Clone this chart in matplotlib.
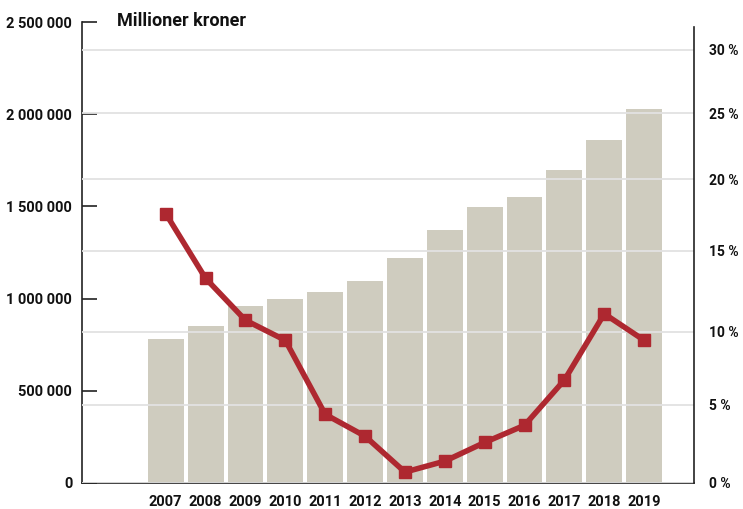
import numpy as np
import matplotlib
matplotlib.use("Agg")
import matplotlib.pyplot as plt

# Data
years = ["2007", "2008", "2009", "2010", "2011", "2012", "2013",
         "2014", "2015", "2016", "2017", "2018", "2019"]
amount = [781000, 852000, 960000, 998000, 1036000, 1096000, 1221000,
          1373000, 1498000, 1552000, 1698000, 1861000, 2029000]
growth = [17.6, 13.3, 10.7, 9.4, 4.4, 3.0, 0.7, 1.4, 2.6, 3.7, 6.7, 11.1, 9.4]

left_ticks = [0, 500000, 1000000, 1500000, 2000000, 2500000]
right_ticks = [0, 5, 10, 15, 20, 25, 30]

# The right axis in the original is not evenly spaced; mimic it
pct_knots = [0, 5, 10, 15, 20, 25, 30, 32.2]
frac_knots = [0, 0.1692, 0.3286, 0.5033, 0.6594, 0.8026, 0.9393, 1.0]

bar_color = "#cfccbf"
line_color = "#ae2830"
grid_color = "#e2e2e2"

plt.rcParams["font.family"] = ["Roboto", "DejaVu Sans"]
plt.rcParams["font.weight"] = "bold"

fig = plt.figure(figsize=(7.43, 5.09), dpi=100)
ax = fig.add_axes([82 / 743, 26 / 509, 612 / 743, 461 / 509])
x = np.arange(len(years))

ax.bar(x, amount, width=0.9, color=bar_color, zorder=1)
ax.set_xlim(-2.1, 13.25)
ax.set_ylim(0, 2500000)
ax.set_yticks(left_ticks)
ax.set_yticklabels([f"{v:,}".replace(",", " ") for v in left_ticks],
                   fontsize=10.5, fontweight="bold")
ax.tick_params(axis="y", direction="in", length=11, width=1.2, pad=7,
               colors="#222222", labelcolor="#111111")
ax.set_xticks(x)
ax.set_xticklabels(years, fontsize=10.5, fontweight="bold")
ax.tick_params(axis="x", length=0, pad=9, labelcolor="#111111")
for s in ["top", "right"]:
    ax.spines[s].set_visible(False)
ax.spines["left"].set_linewidth(1.2)
ax.spines["bottom"].set_linewidth(1.2)
ax.spines["left"].set_color("#222222")
ax.spines["bottom"].set_color("#222222")

ax2 = ax.twinx()


def fwd(v):
    return np.interp(v, pct_knots, frac_knots)


def inv(v):
    return np.interp(v, frac_knots, pct_knots)


ax2.set_yscale("function", functions=(fwd, inv))
ax2.set_ylim(0, 32.2)
ax2.set_yticks(right_ticks)
ax2.set_yticklabels([f"{v} %" for v in right_ticks], fontsize=10,
                    fontweight="bold")
ax2.yaxis.set_minor_locator(plt.NullLocator())
ax2.tick_params(axis="y", length=0, pad=11, labelcolor="#111111")
ax2.grid(axis="y", color=grid_color, linewidth=1.3)
ax2.set_axisbelow(True)
for s in ["top", "left", "bottom"]:
    ax2.spines[s].set_visible(False)
ax2.spines["right"].set_linewidth(1.2)
ax2.spines["right"].set_color("#222222")
ax2.spines["right"].set_bounds(0, 31.8)

ax2.plot(x, growth, color=line_color, linewidth=4, marker="s",
         markersize=8, zorder=3)

fig.text(117 / 743, 1 - 21 / 509, "Millioner kroner", fontsize=13,
         fontweight="bold", va="center", ha="left", color="#111111")

fig.savefig("out.png", dpi=100)
